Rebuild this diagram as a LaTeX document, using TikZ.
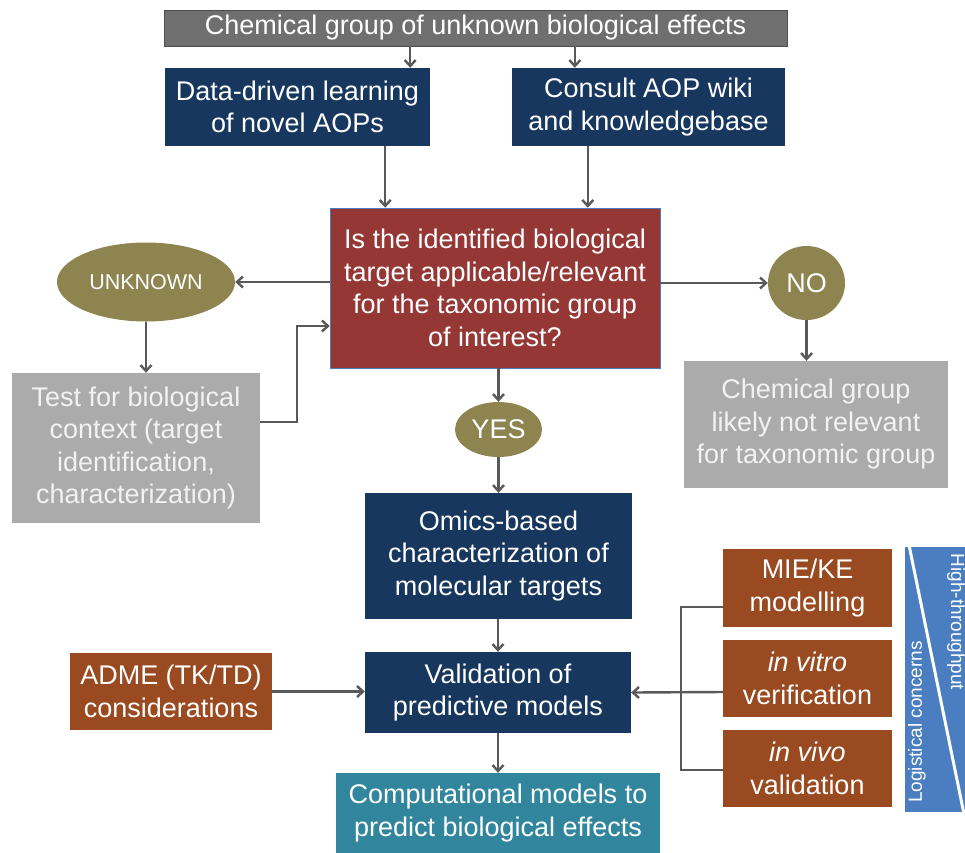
\documentclass[tikz,border=0pt]{standalone}
\usepackage{fontspec}
\setmainfont{Liberation Sans}
\usetikzlibrary{arrows.meta,shapes.geometric}
\definecolor{topgray}{HTML}{6F6F6F}
\definecolor{navy}{HTML}{17375E}
\definecolor{qred}{HTML}{953735}
\definecolor{olive}{HTML}{8E8450}
\definecolor{pale}{HTML}{ABABAB}
\definecolor{rust}{HTML}{9A4A20}
\definecolor{teal}{HTML}{31859C}
\definecolor{wedge}{HTML}{4A7EC0}
\definecolor{wire}{HTML}{595959}
\newcommand{\bigtxt}{\fontsize{27}{32.5}\selectfont}

\begin{document}
\begin{tikzpicture}[x=1pt,y=-1pt,
   box/.style={rectangle, inner sep=0pt, align=center, text=white, font=\bigtxt},
   oval/.style={ellipse, inner sep=0pt, fill=olive, text=white, font=\bigtxt},
   arr/.style={draw=wire, line width=2.4pt, -{Straight Barb[length=6pt,width=11pt]}},
   link/.style={draw=wire, line width=2.4pt}]
   \useasboundingbox (0,0) rectangle (965,852);
   % boxes
   \node[box, fill=topgray, draw=black!70, minimum width=623, minimum height=36] (top) at (475.5, 28)
      {Chemical group of unknown biological effects};
   \node[box, fill=navy, minimum width=265, minimum height=78] (data) at (297.5,107)
      {Data-driven learning\\of novel AOPs};
   \node[box, fill=navy, minimum width=273, minimum height=78] (consult) at (648.5,107)
      {Consult AOP wiki\\and knowledgebase};
   \node[box, fill=qred, draw=wedge, line width=0.6pt, minimum width=330, minimum height=160] (quest) at (495,288)
      {Is the identified biological\\target applicable/relevant\\for the taxonomic group\\of interest?};
   \node[oval, minimum width=178, minimum height=79, font=\fontsize{21.5}{25}\selectfont] (unknown) at (146,282) {UNKNOWN};
   \node[box, fill=pale, text=white!95!black, minimum width=248, minimum height=150] (test) at (136,448)
      {Test for biological\\context (target\\identification,\\characterization)};
   \node[oval, minimum width=77, minimum height=74] (no) at (806.5,283) {NO};
   \node[box, fill=pale, text=white!95!black, minimum width=264, minimum height=127] (notrel) at (816,424.5)
      {Chemical group\\likely not relevant\\for taxonomic group};
   \node[oval, minimum width=87, minimum height=55] (yes) at (498.5,429.5) {YES};
   \node[box, fill=navy, minimum width=267, minimum height=126] (omics) at (498.5,556)
      {Omics-based\\characterization of\\molecular targets};
   \node[box, fill=navy, minimum width=266, minimum height=81] (valid) at (498,692.5)
      {Validation of\\predictive models};
   \node[box, fill=rust, minimum width=202, minimum height=77] (adme) at (171,691.5)
      {ADME (TK/TD)\\considerations};
   \node[box, fill=teal, minimum width=324, minimum height=80] (comp) at (498,813)
      {Computational models to\\predict biological effects};
   \node[box, fill=rust, minimum width=169, minimum height=78] (mie) at (807.5,588)
      {MIE/KE\\modelling};
   \node[box, fill=rust, minimum width=169, minimum height=77] (vitro) at (807.5,678.5)
      {\textit{in vitro}\\verification};
   \node[box, fill=rust, minimum width=169, minimum height=77] (vivo) at (807.5,768.5)
      {\textit{in vivo}\\validation};
   % wedge
   \fill[wedge] (905,547) rectangle (965,812);
   \draw[white, line width=3pt] (909,545) -- (964,814);
   \node[rotate=90, text=white, font=\fontsize{19}{22}\selectfont] (logist) at (917,722) {Logistical concerns};
   \node[rotate=-90, text=white, font=\fontsize{19}{22}\selectfont] (hthru) at (956,622) {High-throughput};
   % connectors
   \draw[arr] ([xshift=-20]data.north east |- top.south) -- ([xshift=-20]data.north east);
   \draw[arr] ([xshift=63]consult.north west |- top.south) -- ([xshift=63]consult.north west);
   \draw[arr] ([xshift=-45]data.south east) -- ([xshift=-45]data.south east |- quest.north);
   \draw[arr] ([xshift=76]consult.south west) -- ([xshift=76]consult.south west |- quest.north);
   \draw[arr] (quest.west |- unknown.east) -- (unknown.east);
   \draw[arr] (unknown.south) -- (unknown.south |- test.north);
   \draw[arr] ([yshift=26]test.east) -- ++(37,0) |- ([yshift=-38]quest.west);
   \draw[arr] (quest.east |- no.west) -- (no.west);
   \draw[arr] (no.south) -- (no.south |- notrel.north);
   \draw[arr] (quest.south -| yes.north) -- (yes.north);
   \draw[arr] (yes.south) -- (yes.south |- omics.north);
   \draw[arr] (omics.south -| valid.north) -- (valid.north);
   \draw[arr] (valid.south) -- (valid.south |- comp.north);
   \draw[arr] (adme.east) -- (adme.east -| valid.west);
   \draw[link] ([yshift=-19]mie.west) -- ++(-42,0) |- ([yshift=-1.5]vivo.west);
   \draw[arr] ([yshift=-13.5]vitro.west) -- (valid.east);
\end{tikzpicture}
\end{document}
